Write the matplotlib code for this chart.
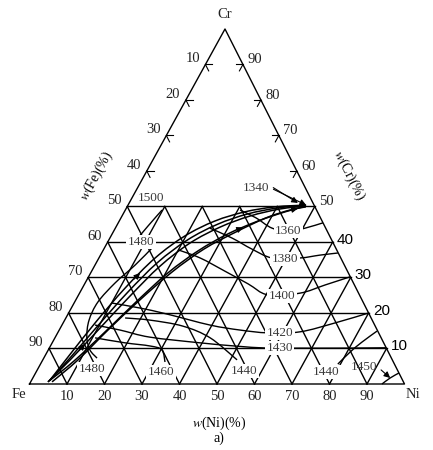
import numpy as np
import matplotlib.pyplot as plt
from matplotlib.path import Path
from matplotlib.patches import PathPatch

plt.rcParams['font.family'] = ['Liberation Serif', 'DejaVu Serif']
plt.rcParams['mathtext.fontset'] = 'stix'

# grid of the Fe-Cr-Ni section, only drawn up to 50 % Cr
grid_steps = [10, 20, 30, 40, 50, 60, 70, 80, 90]
cr_top = 50
edge_ticks = [60, 70, 80, 90]

# monovariant valley, drawn as a bundle of lines  (Ni %, Cr %)
valley_a_ni = [4.6, 7.3, 10.6, 13.9, 17.5, 22.1, 27.8, 34.1, 41.1, 47.6]
valley_a_cr = [0.6, 6.8, 15.8, 24.8, 33.2, 39.7, 44.2, 47.3, 49.3, 50.1]
valley_b_ni = [4.9, 6.3, 8.6, 11.4, 15.0, 19.7, 25.5, 32.2, 39.5, 47.5]
valley_b_cr = [1.1, 7.6, 17.5, 27.0, 35.5, 41.7, 45.9, 48.5, 49.9, 50.4]
valley_c_ni = [4.6, 8.5, 12.6, 16.5, 20.6, 25.4, 30.9, 37.0, 42.9, 47.6]
valley_c_cr = [0.6, 6.5, 14.9, 23.4, 31.3, 37.5, 42.3, 45.9, 48.5, 50.1]
valley_d_ni = [5.7, 9.4, 13.0, 17.1, 21.6, 26.7, 32.7, 38.7, 43.9, 47.7]
valley_d_cr = [0.6, 6.8, 15.2, 23.7, 31.6, 38.0, 42.8, 46.8, 49.0, 49.9]
valley_e_ni = [4.8, 6.9, 9.7, 12.7, 16.3, 21.0, 26.7, 33.2, 40.4, 47.5]
valley_e_cr = [0.9, 7.1, 16.5, 25.8, 34.2, 40.6, 45.0, 47.9, 49.6, 50.3]

# liquidus isotherms (Ni %, Cr %)
t1360_ni = [30.6, 36.0, 41.8, 47.0, 50.6, 54.6]
t1360_cr = [49.0, 46.8, 43.9, 43.1, 43.9, 45.4]
t1380_ni = [25.2, 32.6, 39.5, 46.2, 53.6, 58.5, 63.0]
t1380_cr = [43.9, 41.1, 38.0, 35.5, 35.5, 36.3, 36.9]
t1400_ni = [19.9, 27.0, 35.5, 43.6, 50.5, 58.8, 64.3, 69.8]
t1400_cr = [37.8, 35.5, 31.8, 28.2, 25.1, 25.6, 27.9, 30.2]
t1420_ni = [10.1, 18.3, 26.4, 39.5, 48.2, 56.1, 64.5, 72.5, 80.0]
t1420_cr = [22.8, 21.4, 19.7, 16.6, 15.2, 14.4, 14.7, 17.2, 20.0]
t1430_ni = [8.8, 16.2, 25.2, 39.4, 49.2, 58.3, 66.8, 77.5, 89.8]
t1430_cr = [16.6, 15.2, 13.2, 11.6, 10.7, 10.1, 10.1, 10.1, 10.2]
t1440a_ni = [15.8, 22.7, 32.4, 41.4, 51.8]
t1440a_cr = [18.6, 18.0, 16.3, 13.0, 6.8]
t1440b_ni = [79.3, 80.8, 82.5, 84.9]
t1440b_cr = [5.6, 9.0, 11.8, 14.9]
t1450_ni = [94.0, 95.3, 96.9]
t1450_cr = [0.0, 1.7, 3.1]
t1460_ni = [10.7, 19.4, 26.6, 30.3, 32.9]
t1460_cr = [13.0, 11.6, 10.7, 9.6, 6.2]
t1480_ni = [12.7, 10.7, 8.0, 6.2, 6.5, 8.4, 11.1, 14.2]
t1480_cr = [38.3, 33.5, 28.5, 23.1, 18.0, 13.2, 9.6, 7.3]
t1500_ni = [9.8, 8.4, 7.0]
t1500_cr = [49.0, 44.5, 39.4]

# the printed triangle is a little taller than equilateral and leans right
SKEW = 0.5213
HEIGHT = 0.9467


def tern(ni, cr):
    ni = np.asarray(ni, dtype=float)
    cr = np.asarray(cr, dtype=float)
    return ni + SKEW * cr, HEIGHT * cr


def smooth_curve(ax, ni, cr, lw=1.0):
    # Catmull-Rom through the points, handed to matplotlib as cubic Bezier segments
    x, y = tern(ni, cr)
    pts = np.column_stack([x, y])
    if len(pts) < 3:
        ax.plot(x, y, color='k', lw=lw)
        return
    ext = np.vstack([pts[0], pts, pts[-1]])
    verts = [pts[0]]
    codes = [Path.MOVETO]
    for i in range(1, len(ext) - 2):
        p0, p1, p2, p3 = ext[i - 1], ext[i], ext[i + 1], ext[i + 2]
        verts += [p1 + (p2 - p0) / 6, p2 - (p3 - p1) / 6, p2]
        codes += [Path.CURVE4] * 3
    ax.add_patch(PathPatch(Path(verts, codes), fill=False, ec='k', lw=lw))


def arrow_on(ax, ni, cr, i):
    x, y = tern(ni, cr)
    a = (x[i] * 0.7 + x[i + 1] * 0.3, y[i] * 0.7 + y[i + 1] * 0.3)
    b = (x[i] * 0.5 + x[i + 1] * 0.5, y[i] * 0.5 + y[i + 1] * 0.5)
    ax.annotate('', xy=b, xytext=a,
                arrowprops=dict(arrowstyle='-|>', color='k', lw=0.8,
                                mutation_scale=9, shrinkA=0, shrinkB=0))


fig = plt.figure(figsize=(4.33, 4.5), dpi=100)
ax = fig.add_axes([0, 0, 1, 1])
ax.set_xlim(-7.87, 107.6)
ax.set_ylim(-17.6, 102.4)
ax.axis('off')

LW = 1.0

# outline
x, y = tern([0, 100, 0, 0], [0, 0, 100, 0])
ax.plot(x, y, color='k', lw=LW)

# grid lines
for v in grid_steps:
    top = min(cr_top, 100 - v)
    if v <= cr_top:
        x, y = tern([0, 100 - v], [v, v])
        ax.plot(x, y, color='k', lw=LW)
    x, y = tern([v, v], [0, top])
    ax.plot(x, y, color='k', lw=LW)
    x, y = tern([100 - v, 100 - v - top], [0, top])
    ax.plot(x, y, color='k', lw=LW)

# small ticks on the upper part of the two edges
t = 1.8
for c in edge_ticks:
    for ni_end, cr_end in [(t, c), (t, c - t)]:
        x, y = tern([0, ni_end], [c, cr_end])
        ax.plot(x, y, color='k', lw=0.8)
    for ni_end, cr_end in [(100 - c - t, c), (100 - c, c - t)]:
        x, y = tern([100 - c, ni_end], [c, cr_end])
        ax.plot(x, y, color='k', lw=0.8)

# valley bundle and isotherms
valleys = [(valley_a_ni, valley_a_cr), (valley_b_ni, valley_b_cr),
           (valley_c_ni, valley_c_cr), (valley_d_ni, valley_d_cr),
           (valley_e_ni, valley_e_cr)]
for ni, cr in valleys:
    smooth_curve(ax, ni, cr, lw=1.1)

isotherms = [(t1360_ni, t1360_cr), (t1380_ni, t1380_cr), (t1400_ni, t1400_cr),
             (t1420_ni, t1420_cr), (t1430_ni, t1430_cr), (t1440a_ni, t1440a_cr),
             (t1440b_ni, t1440b_cr), (t1450_ni, t1450_cr), (t1460_ni, t1460_cr),
             (t1480_ni, t1480_cr), (t1500_ni, t1500_cr)]
for ni, cr in isotherms:
    smooth_curve(ax, ni, cr)

arrow_on(ax, valley_a_ni, valley_a_cr, 1)
arrow_on(ax, valley_b_ni, valley_b_cr, 3)
arrow_on(ax, valley_c_ni, valley_c_cr, 6)
arrow_on(ax, valley_d_ni, valley_d_cr, 8)

# isotherm labels
iso_style = dict(fontsize=9.5, color='#3a3a3a', ha='center', va='center',
                 bbox=dict(boxstyle='square,pad=0.1', fc='white', ec='none'))
iso_labels = [('1500', 5.2, 52.4), ('1480', 8.9, 40.0), ('1360', 46.5, 43.1),
              ('1380', 49.8, 35.2), ('1400', 54.4, 24.8), ('1420', 59.3, 14.4),
              ('1430', 61.5, 10.1), ('1440', 55.3, 3.7), ('1440', 77.3, 3.4),
              ('1460', 33.3, 3.4), ('1480', 14.5, 4.2)]
for txt, ni, cr in iso_labels:
    ax.text(*tern(ni, cr), txt, **iso_style)

arrow_kw = dict(arrowstyle='-|>', color='k', lw=0.8, mutation_scale=9,
                shrinkA=2, shrinkB=0)
lab1340 = tern(31.6, 55.2)
ax.text(*lab1340, '1340', fontsize=9.5, color='#3a3a3a', ha='center', va='center')
ax.annotate('', xy=tern(valley_b_ni[-1], valley_b_cr[-1]), xytext=(lab1340[0] + 4, lab1340[1]),
            arrowprops=arrow_kw)
ax.annotate('', xy=tern(45.0, 51.0), xytext=(lab1340[0] + 4, lab1340[1] + 0.5),
            arrowprops=arrow_kw)
lab1450 = tern(86.7, 4.8)
ax.text(*lab1450, '1450', fontsize=9.5, color='#3a3a3a', ha='center', va='center')
ax.annotate('', xy=tern(t1450_ni[1], t1450_cr[1]), xytext=(lab1450[0] + 4, lab1450[1] - 0.3),
            arrowprops=arrow_kw)

# edge scales
for c in grid_steps:
    ax.annotate(str(100 - c), tern(0, c), xytext=(-4, 4), textcoords='offset points',
                ha='right', va='center', fontsize=10.5, color='#222')
    if c >= 50:
        ax.annotate(str(c), tern(100 - c, c), xytext=(3, 3.5), textcoords='offset points',
                    ha='left', va='center', fontsize=10.5, color='#222')
    else:
        ax.annotate(str(c), tern(100 - c, c), xytext=(3, 1.5), textcoords='offset points',
                    ha='left', va='center', fontsize=11, color='k',
                    family='Liberation Sans')
    ax.annotate(str(c), tern(c, 0), xytext=(0, -4), textcoords='offset points',
                ha='center', va='top', fontsize=10.5, color='#222')

ax.annotate('Fe', tern(0, 0), xytext=(-2, -3), textcoords='offset points',
            ha='right', va='top', fontsize=10.5, color='#222')
ax.annotate('Ni', tern(100, 0), xytext=(1, -3), textcoords='offset points',
            ha='left', va='top', fontsize=10.5, color='#222')
ax.annotate('Cr', tern(0, 100), xytext=(0, 6), textcoords='offset points',
            ha='center', va='bottom', fontsize=10.5, color='#222')

ax.text(18.0, 55.5, r'$w$(Fe)(%)', rotation=61.2, fontsize=10, ha='center', va='center')
ax.text(85.2, 55.7, r'$w$(Cr)(%)', rotation=-63.2, fontsize=10, ha='center', va='center')
ax.text(50.5, -10.4, r'$w$(Ni)(%)', fontsize=10, ha='center', va='center')
ax.text(50.5, -14.6, 'a)', fontsize=10, ha='center', va='center')

fig.savefig('out.png', dpi=100)
